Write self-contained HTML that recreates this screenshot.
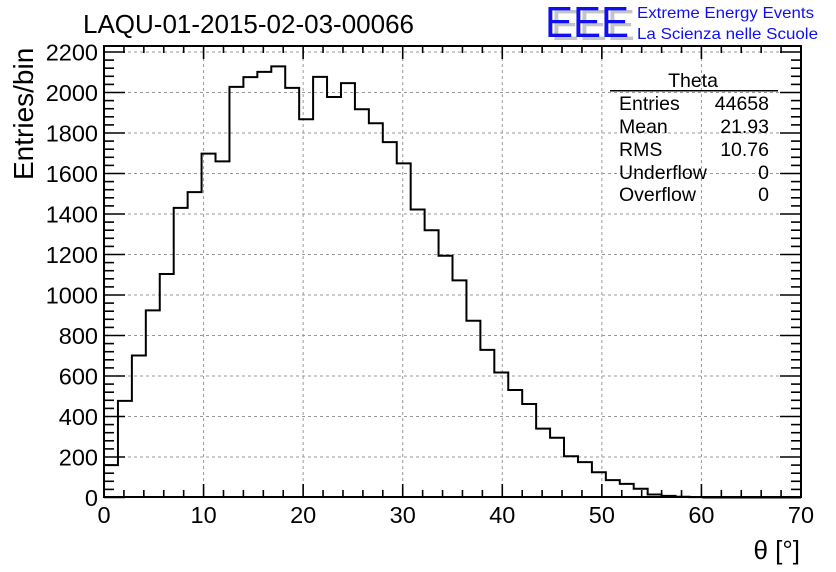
<!DOCTYPE html>
<html><head><meta charset="utf-8"><style>
html,body{margin:0;padding:0;background:#fff;}
svg{display:block;font-family:"Liberation Sans",Arial,sans-serif;}
</style></head><body>
<svg width="836" height="572" viewBox="0 0 836 572" xmlns="http://www.w3.org/2000/svg">
<rect width="836" height="572" fill="#fff"/>
<g id="grid" stroke="#999" stroke-width="1" stroke-dasharray="3,3" fill="none"></g>
<path id="hist" fill="none" stroke="#000" stroke-width="2"/>
<g id="ticks" stroke="#000" stroke-width="1.6"></g>
<rect x="104" y="46" width="697" height="451" fill="none" stroke="#000" stroke-width="2"/>
<g id="labels" font-size="23.5" fill="#000"></g>
<text x="83" y="33" font-size="26">LAQU-01-2015-02-03-00066</text>
<text transform="translate(33,180) rotate(-90)" font-size="28">Entries/bin</text>
<text x="800" y="559" font-size="26" text-anchor="end">θ [°]</text>
<line x1="610" y1="90.7" x2="778" y2="90.7" stroke="#000" stroke-width="1.5"/>
<g font-size="19.5">
<text x="693" y="87" text-anchor="middle">Theta</text>
<text x="619" y="110">Entries</text><text x="769" y="110" text-anchor="end">44658</text>
<text x="619" y="133">Mean</text><text x="769" y="133" text-anchor="end">21.93</text>
<text x="619" y="156">RMS</text><text x="769" y="156" text-anchor="end">10.76</text>
<text x="619" y="179">Underflow</text><text x="769" y="179" text-anchor="end">0</text>
<text x="619" y="201">Overflow</text><text x="769" y="201" text-anchor="end">0</text>
</g>
<g font-size="44">
<text x="551" y="40" fill="#c4c4c4" textLength="84" lengthAdjust="spacingAndGlyphs">EEE</text>
<text x="545" y="37" fill="#1010ee" textLength="84" lengthAdjust="spacingAndGlyphs">EEE</text>
</g>
<text x="637" y="18" font-size="16" fill="#1010ee" textLength="177" lengthAdjust="spacingAndGlyphs">Extreme Energy Events</text>
<text x="637" y="39" font-size="16" fill="#1010ee" textLength="181" lengthAdjust="spacingAndGlyphs">La Scienza nelle Scuole</text>
<script>
const X0=104,X1=801,Y0=497.5,S=0.2025;
const xp=v=>X0+(X1-X0)*v/70, yp=v=>Y0-v*S;
const ns="http://www.w3.org/2000/svg";
function el(p,t,a,txt){const e=document.createElementNS(ns,t);for(const k in a)e.setAttribute(k,a[k]);if(txt!==undefined)e.textContent=txt;p.appendChild(e);return e;}
const g=document.getElementById('grid'),tk=document.getElementById('ticks'),lb=document.getElementById('labels');
for(let v=10;v<70;v+=10)el(g,'line',{x1:xp(v),x2:xp(v),y1:46,y2:497});
for(let v=200;v<=2200;v+=200)el(g,'line',{x1:104,x2:801,y1:yp(v),y2:yp(v)});
for(let v=0;v<=70;v+=2){const big=v%10==0,L=big?13:7;const x=xp(v);
 el(tk,'line',{x1:x,x2:x,y1:497,y2:497-L});el(tk,'line',{x1:x,x2:x,y1:46,y2:46+L});
 if(big)el(lb,'text',{x:x,y:523,'text-anchor':'middle'},String(v));}
for(let v=0;v<=2220;v+=40){const big=v%200==0,L=big?21:10;const y=yp(v);
 el(tk,'line',{x1:104,x2:104+L,y1:y,y2:y});el(tk,'line',{x1:801,x2:801-L,y1:y,y2:y});
 if(big)el(lb,'text',{x:98,y:y+8.5,'text-anchor':'end'},String(v));}
const d=[160,477,701,924,1104,1430,1508,1698,1660,2028,2076,2102,2129,2023,1868,2077,1978,2046,1917,1848,1755,1650,1422,1320,1194,1072,873,729,617,531,462,340,295,204,175,125,86,67,43,15,8,4,2,0,0,0,0,0,0,0];
let p='M'+X0+','+Y0;
d.forEach((v,i)=>{const xa=xp(i*1.4),xb=xp((i+1)*1.4);p+=' L'+xa+','+yp(v)+' L'+xb+','+yp(v);});
document.getElementById('hist').setAttribute('d',p);
</script>
</svg>
</body></html>
